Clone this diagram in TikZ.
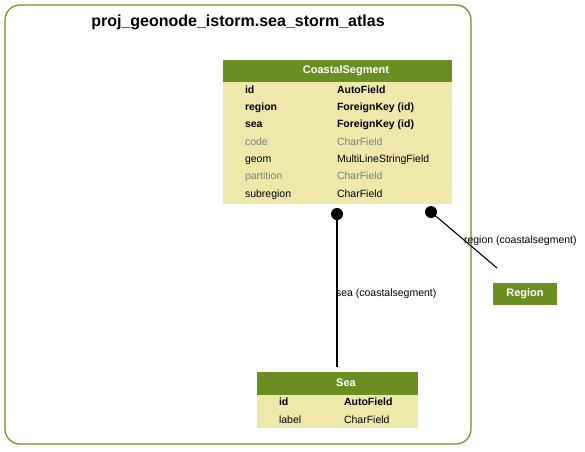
\documentclass[tikz,border=0pt]{standalone}
\usepackage{fontspec}
\setmainfont{Liberation Sans}
\begin{document}
\begin{tikzpicture}[x=1pt,y=-1pt,
  every node/.style={inner sep=0pt,outer sep=0pt,font=\fontsize{10.5}{12}\selectfont,text height=7.6pt,text depth=2.2pt},
  cluster/.style={draw=olivegreen,line width=1.2pt,rounded corners=15pt},
  headbox/.style={fill=olivegreen,draw=none,minimum height=22pt,text=white,font=\fontsize{11}{12}\selectfont\bfseries},
  headtext/.style={text=white,font=\fontsize{11}{12}\selectfont\bfseries,xshift=8.5pt},
  bodybox/.style={fill=palegold,draw=none},
  fld/.style={anchor=west,text=black,yshift=-1.3pt},
  fldb/.style={anchor=west,text=black,font=\fontsize{10.5}{12}\selectfont\bfseries,yshift=-1.3pt},
  fldg/.style={anchor=west,text=fadegray,yshift=-1.3pt},
  dot/.style={circle,fill=black,minimum size=12pt,text height=,text depth=},
  edge/.style={draw=black,line width=1.1pt},
  elabel/.style={anchor=west,text=black,yshift=-1.3pt}
]
\definecolor{olivegreen}{HTML}{6B8E23}
\definecolor{palegold}{HTML}{EEE8AA}
\definecolor{fadegray}{HTML}{7F7F7F}
\useasboundingbox (0,0) rectangle (585,451);
\fill[white] (0,0) rectangle (585,451);
% cluster
\draw[cluster] (5,5) rectangle (471,444);
\node[font=\fontsize{16}{18}\selectfont\bfseries,text height=,text depth=] (title) at (238,22) {proj\_geonode\_istorm.sea\_storm\_atlas};
% CoastalSegment
\node[bodybox,minimum width=229pt,minimum height=122pt,anchor=north west] (csbody) at (223,82) {};
\node[headbox,minimum width=229pt,anchor=north west] (cshead) at (223,60) {};
\node[headtext] (csname) at (cshead.center) {CoastalSegment};
\node[fldb] (csid) at (245,89) {id};
\node[fldb] (csidt) at (337,89) {AutoField};
\node[fldb] (csreg) at (245,106) {region};
\node[fldb] (csregt) at (337,106) {ForeignKey (id)};
\node[fldb] (cssea) at (245,123.5) {sea};
\node[fldb] (csseat) at (337,123.5) {ForeignKey (id)};
\node[fldg] (cscode) at (245,141) {code};
\node[fldg] (cscodet) at (337,141) {CharField};
\node[fld] (csgeom) at (245,158) {geom};
\node[fld] (csgeomt) at (337,158) {MultiLineStringField};
\node[fldg] (cspart) at (245,175.5) {partition};
\node[fldg] (cspartt) at (337,175.5) {CharField};
\node[fld] (cssub) at (245,193) {subregion};
\node[fld] (cssubt) at (337,193) {CharField};
% Sea
\node[bodybox,minimum width=161pt,minimum height=33pt,anchor=north west] (seabody) at (257,395) {};
\node[headbox,minimum width=161pt,minimum height=23pt,anchor=north west] (seahead) at (257,372) {};
\node[headtext] (seaname) at (seahead.center) {Sea};
\node[fldb] (seaid) at (279,401) {id};
\node[fldb] (seaidt) at (344,401) {AutoField};
\node[fld] (sealab) at (279,419) {label};
\node[fld] (sealabt) at (344,419) {CharField};
% Region
\node[headbox,minimum width=64pt,anchor=north west] (region) at (493,283) {Region};
% edges
\node[dot] (seadot) at (337,214) {};
\node[dot] (regdot) at (431,212) {};
\coordinate (regend) at (497,268);
\draw[edge] (seadot.center) -- ([yshift=5pt]seahead.north -| seadot.center);
\draw[edge] (regdot.center) -- (regend);
\node[elabel] (sealbl) at (336,292) {sea (coastalsegment)};
\node[elabel] (reglbl) at (464,239) {region (coastalsegment)};
\end{tikzpicture}
\end{document}
